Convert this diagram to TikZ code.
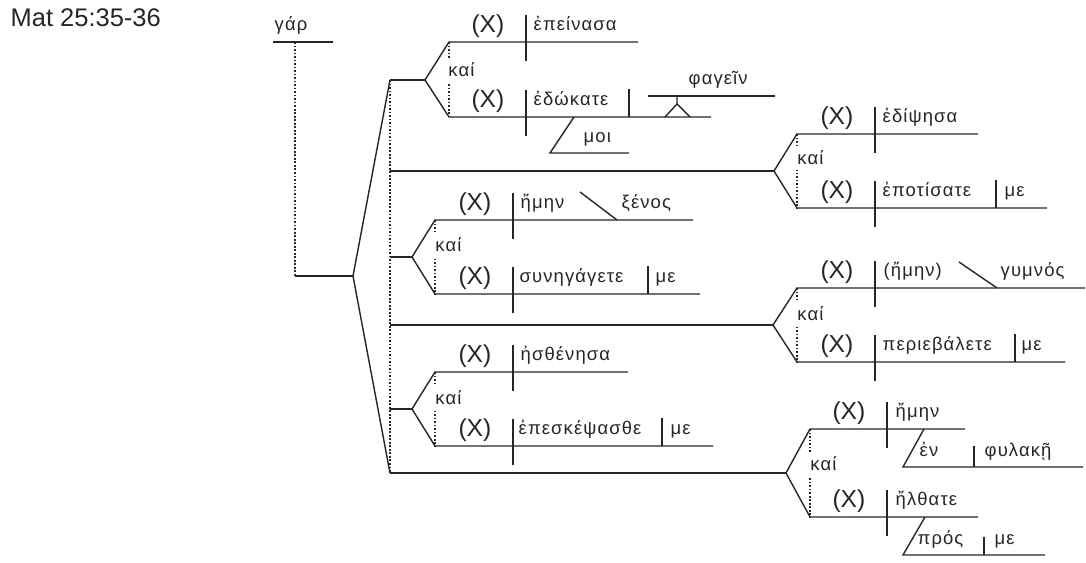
\documentclass[tikz,border=0pt]{standalone}
\usepackage{fontspec}
\setmainfont{Liberation Sans}
\newfontfamily\grk[LetterSpace=6]{Liberation Sans}

\begin{document}
\begin{tikzpicture}[x=0.02cm, y=-0.02cm, line width=0.8pt, color=black!85,
	wd/.style={font=\grk\fontsize{10.5}{12}\selectfont, inner sep=0pt, anchor=base west},
	sb/.style={font=\fontsize{14}{16}\selectfont, inner sep=0pt, anchor=base east},
	kai/.style={wd, anchor=west, fill=white, inner ysep=3pt, inner xsep=1pt},
	dots/.style={line width=1pt, dash pattern=on 1pt off 1pt}]
	\useasboundingbox (0,0) rectangle (1086,563);

	\node[sb, anchor=base west, font=\fontsize{14.5}{16}\selectfont] (title) at (10,27) {Mat 25:35-36};

	% gar
	\node[wd] (gar) at (274,31) {γάρ};
	\coordinate (G1) at (273,42);
	\coordinate (G2) at (333,42);
	\coordinate (G) at (295,42);
	\coordinate (GB) at (295,276);
	\coordinate (M) at (353,276);
	\draw (G1) -- (G2);
	\draw[dots] (G) -- (GB);
	\draw (GB) -- (M);

	% main fork
	\coordinate (T) at (390,80);
	\coordinate (B) at (390,473);
	\coordinate (H2) at (390,171);
	\coordinate (H3) at (390,257);
	\coordinate (H4) at (390,325);
	\coordinate (H5) at (390,409);
	\coordinate (F1) at (425,80);
	\coordinate (F2) at (774,171);
	\coordinate (F3) at (412,257);
	\coordinate (F4) at (773,325);
	\coordinate (F5) at (412,409);
	\coordinate (F6) at (786,473);
	\draw (T) -- (M) -- (B);
	\draw[dots] (T) -- (B);
	\draw (T) -- (F1);
	\draw (H2) -- (F2);
	\draw (H3) -- (F3);
	\draw (H4) -- (F4);
	\draw (H5) -- (F5);
	\draw (B) -- (F6);

	% group 1
	\coordinate (A1) at (449,42);
	\coordinate (A1e) at (638,42);
	\coordinate (B1) at (449,117);
	\coordinate (B1e) at (711,117);
	\draw (A1e) -- (A1) -- (F1) -- (B1) -- (B1e);
	\draw[dots] (A1) -- (B1);
	\node[kai] (k1) at (446,70) {καί};
	\coordinate (V1) at (526,42);
	\coordinate (W1) at (526,117);
	\draw (V1) ++(0,-27) -- ++(0,46);
	\draw (W1) ++(0,-27) -- ++(0,46);
	\node[sb] (x1) at (505,33) {(X)};
	\node[wd] (v1) at (533,31) {ἐπείνασα};
	\node[sb] (x2) at (505,108) {(X)};
	\node[wd] (v2) at (533,106) {ἐδώκατε};
	\coordinate (D1) at (629,117);
	\draw (D1) -- ++(0,-28);
	\coordinate (I1) at (648,96);
	\coordinate (I2) at (775,96);
	\coordinate (IS) at (677,96);
	\draw (I1) -- (I2);
	\draw (IS) -- ++(0,8) -- ++(-12,13) ++(12,-13) -- ++(13,13);
	\node[wd] (inf) at (688,85) {φαγεῖν};
	\coordinate (MO) at (574,117);
	\draw (MO) -- ++(-24,36) -- ++(79,0);
	\node[wd] (moi) at (583,143) {μοι};

	% group 2
	\coordinate (A2) at (797,134);
	\coordinate (A2e) at (978,134);
	\coordinate (B2) at (797,208);
	\coordinate (B2e) at (1047,208);
	\draw (A2e) -- (A2) -- (F2) -- (B2) -- (B2e);
	\draw[dots] (A2) -- (B2);
	\node[kai] (k2) at (795,158) {καί};
	\coordinate (V2) at (875,134);
	\coordinate (W2) at (875,208);
	\draw (V2) ++(0,-27) -- ++(0,46);
	\draw (W2) ++(0,-27) -- ++(0,46);
	\node[sb] (x3) at (854,125) {(X)};
	\node[wd] (v3) at (882,123) {ἐδίψησα};
	\node[sb] (x4) at (854,199) {(X)};
	\node[wd] (v4) at (882,197) {ἐποτίσατε};
	\coordinate (D2) at (996,208);
	\draw (D2) -- ++(0,-28);
	\node[wd] (o4) at (1004,197) {με};

	% group 3
	\coordinate (A3) at (435,220);
	\coordinate (A3e) at (693,220);
	\coordinate (B3) at (435,294);
	\coordinate (B3e) at (700,294);
	\draw (A3e) -- (A3) -- (F3) -- (B3) -- (B3e);
	\draw[dots] (A3) -- (B3);
	\node[kai] (k3) at (433,245) {καί};
	\coordinate (V3) at (513,220);
	\coordinate (W3) at (513,294);
	\draw (V3) ++(0,-27) -- ++(0,46);
	\draw (W3) ++(0,-27) -- ++(0,46);
	\node[sb] (x5) at (492,211) {(X)};
	\node[wd] (v5) at (520,209) {ἤμην};
	\coordinate (PR3) at (617,220);
	\draw (PR3) -- ++(-37,-28);
	\node[wd] (p5) at (621,209) {ξένος};
	\node[sb] (x6) at (492,285) {(X)};
	\node[wd] (v6) at (519,283) {συνηγάγετε};
	\coordinate (D3) at (648,294);
	\draw (D3) -- ++(0,-28);
	\node[wd] (o6) at (655,283) {με};

	% group 4
	\coordinate (A4) at (797,288);
	\coordinate (A4e) at (1085,288);
	\coordinate (B4) at (797,362);
	\coordinate (B4e) at (1065,362);
	\draw (A4e) -- (A4) -- (F4) -- (B4) -- (B4e);
	\draw[dots] (A4) -- (B4);
	\node[kai] (k4) at (795,314) {καί};
	\coordinate (V4) at (875,288);
	\coordinate (W4) at (875,362);
	\draw (V4) ++(0,-27) -- ++(0,46);
	\draw (W4) ++(0,-27) -- ++(0,46);
	\node[sb] (x7) at (854,279) {(X)};
	\node[wd] (v7) at (883,277) {(ἤμην)};
	\coordinate (PR4) at (997,288);
	\draw (PR4) -- ++(-38,-26);
	\node[wd] (p7) at (1000,277) {γυμνός};
	\node[sb] (x8) at (854,353) {(X)};
	\node[wd] (v8) at (882,351) {περιεβάλετε};
	\coordinate (D4) at (1015,362);
	\draw (D4) -- ++(0,-28);
	\node[wd] (o8) at (1021,351) {με};

	% group 5
	\coordinate (A5) at (435,372);
	\coordinate (A5e) at (628,372);
	\coordinate (B5) at (435,446);
	\coordinate (B5e) at (713,446);
	\draw (A5e) -- (A5) -- (F5) -- (B5) -- (B5e);
	\draw[dots] (A5) -- (B5);
	\node[kai] (k5) at (433,398) {καί};
	\coordinate (V5) at (513,372);
	\coordinate (W5) at (513,446);
	\draw (V5) ++(0,-27) -- ++(0,46);
	\draw (W5) ++(0,-27) -- ++(0,46);
	\node[sb] (x9) at (492,363) {(X)};
	\node[wd] (v9) at (520,361) {ἠσθένησα};
	\node[sb] (x10) at (492,437) {(X)};
	\node[wd] (v10) at (518,435) {ἐπεσκέψασθε};
	\coordinate (D5) at (662,446);
	\draw (D5) -- ++(0,-28);
	\node[wd] (o10) at (670,435) {με};

	% group 6
	\coordinate (A6) at (810,429);
	\coordinate (A6e) at (965,429);
	\coordinate (B6) at (810,517);
	\coordinate (B6e) at (978,517);
	\draw (A6e) -- (A6) -- (F6) -- (B6) -- (B6e);
	\draw[dots] (A6) -- (B6);
	\node[kai] (k6) at (808,464) {καί};
	\coordinate (V6) at (887,429);
	\coordinate (W6) at (887,517);
	\draw (V6) ++(0,-27) -- ++(0,46);
	\draw (W6) ++(0,-27) -- ++(0,46);
	\node[sb] (x11) at (866,420) {(X)};
	\node[wd] (v11) at (895,418) {ἤμην};
	\coordinate (EN) at (924,429);
	\coordinate (ENe) at (1083,467);
	\draw (EN) -- ++(-21,38) -- (ENe);
	\coordinate (D6) at (974,467);
	\draw (D6) -- ++(0,-21);
	\node[wd] (pp11) at (919,457) {ἐν};
	\node[wd] (po11) at (984,457) {φυλακῇ};
	\node[sb] (x12) at (866,508) {(X)};
	\node[wd] (v12) at (895,506) {ἤλθατε};
	\coordinate (PS) at (925,517);
	\draw (PS) -- ++(-22,38) -- ++(142,0);
	\coordinate (D7) at (984,555);
	\draw (D7) -- ++(0,-18);
	\node[wd] (pp12) at (917,545) {πρός};
	\node[wd] (po12) at (994,545) {με};
\end{tikzpicture}
\end{document}
